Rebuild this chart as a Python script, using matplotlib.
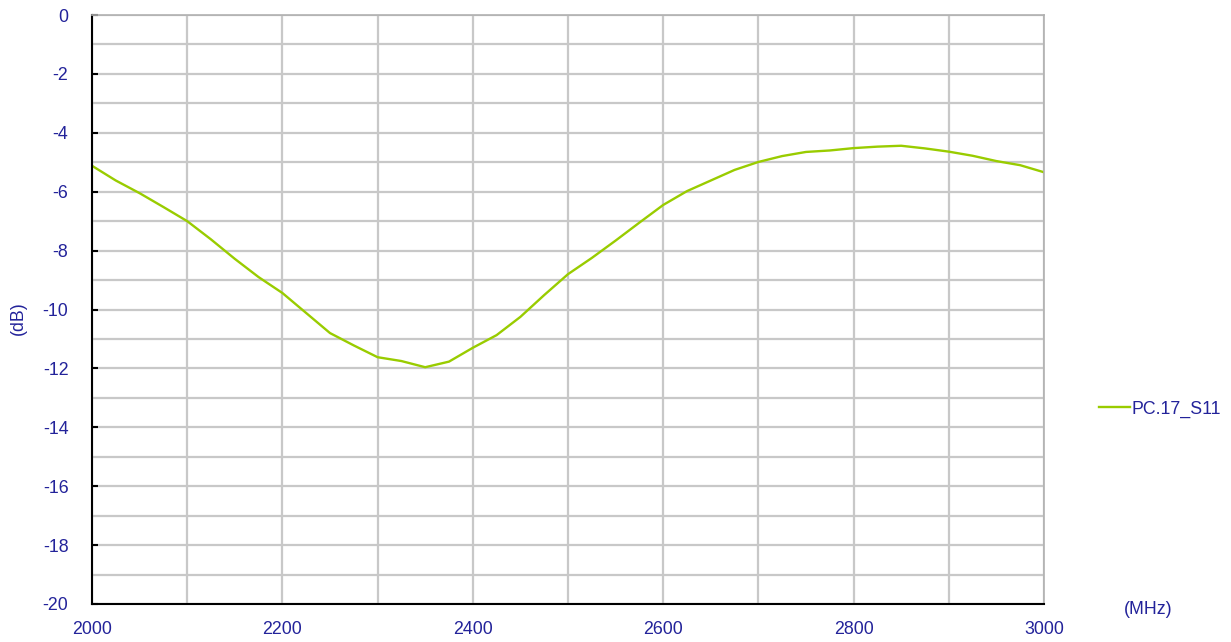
import numpy as np
import matplotlib
matplotlib.use("Agg")
import matplotlib.pyplot as plt
from matplotlib.ticker import MultipleLocator

# S11 (MHz, dB)
freq_mhz = [2000, 2025, 2050, 2075, 2100, 2125, 2150, 2175, 2200, 2225,
            2250, 2275, 2300, 2325, 2350, 2375, 2400, 2425, 2450, 2475,
            2500, 2525, 2550, 2575, 2600, 2625, 2650, 2675, 2700, 2725,
            2750, 2775, 2800, 2825, 2850, 2875, 2900, 2925, 2950, 2975, 3000]
s11_db = [-5.12, -5.62, -6.05, -6.52, -7.00, -7.62, -8.28, -8.90, -9.44, -10.12,
          -10.80, -11.22, -11.62, -11.75, -11.96, -11.77, -11.30, -10.87, -10.25, -9.51,
          -8.80, -8.25, -7.66, -7.05, -6.45, -5.98, -5.62, -5.26, -4.99, -4.79,
          -4.65, -4.60, -4.52, -4.47, -4.44, -4.53, -4.64, -4.78, -4.96, -5.10, -5.34]
series_name = "PC.17_S11"

txt_col = "#23239a"
fs = 12.8
plt.rcParams['font.family'] = ['Liberation Sans', 'DejaVu Sans']
plt.rcParams['axes.unicode_minus'] = False

fig = plt.figure(figsize=(12.31, 6.42), dpi=100)
ax = fig.add_axes([92/1231, 1 - 604/642, (1044 - 92)/1231, (604 - 15)/642])

ax.plot(freq_mhz, s11_db, color="#99cc00", lw=1.7, label=series_name)

ax.set_xlim(2000, 3000)
ax.set_ylim(-20, 0)
ax.xaxis.set_major_locator(MultipleLocator(200))
ax.xaxis.set_minor_locator(MultipleLocator(100))
ax.yaxis.set_major_locator(MultipleLocator(2))
ax.yaxis.set_minor_locator(MultipleLocator(1))
ax.grid(which="both", color="#c8c8c8", lw=1.6)
ax.set_axisbelow(True)

ax.tick_params(axis="y", which="major", direction="in", length=4, width=1.5,
               color="black", pad=17, labelsize=fs, labelcolor=txt_col)
ax.tick_params(axis="x", which="major", length=0, pad=12,
               labelsize=fs, labelcolor=txt_col)
ax.tick_params(which="minor", length=0)

for s in ["left", "bottom"]:
    ax.spines[s].set_color("black")
    ax.spines[s].set_linewidth(1.5)
for s in ["top", "right"]:
    ax.spines[s].set_color("#b0b0b0")
    ax.spines[s].set_linewidth(1.2)

fig.text(18/1231, 1 - 318/642, "(dB)", rotation=90, ha="center", va="center",
         fontsize=fs, color=txt_col)
fig.text(1148/1231, 1 - 609/642, "(MHz)", ha="center", va="center",
         fontsize=fs, color=txt_col)

leg = fig.legend(loc="center left", bbox_to_anchor=(1099/1231, 1 - 409/642),
                 frameon=False, fontsize=fs, handlelength=1.75,
                 handletextpad=0.08, borderpad=0, borderaxespad=0)
for t in leg.get_texts():
    t.set_color(txt_col)

fig.savefig("out.png", dpi=100)
